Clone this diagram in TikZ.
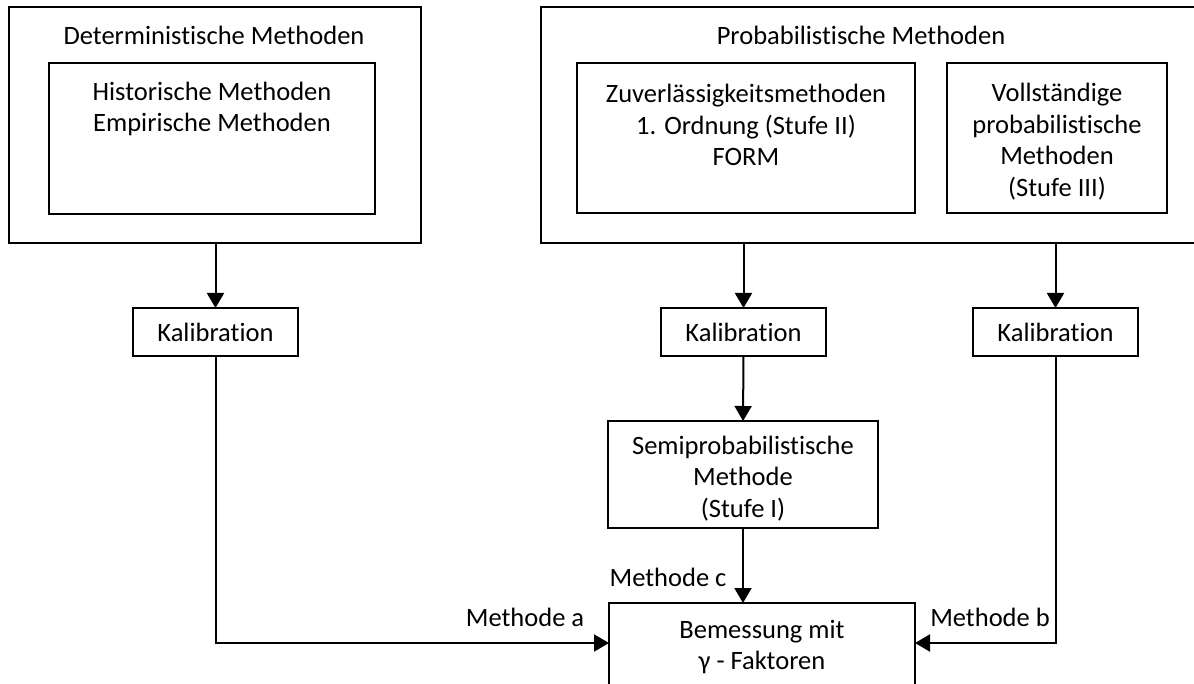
\documentclass[tikz,border=0pt]{standalone}
\usepackage{fontspec}
\setmainfont{Carlito}[Ligatures={NoCommon,NoRequired,NoContextual}]
\usetikzlibrary{arrows.meta}
\begin{document}
\begin{tikzpicture}[x=1pt,y=-1pt,
  box/.style={draw=black,line width=2pt,fill=none,inner sep=0pt,outer sep=0pt},
  txt/.style={inner sep=0pt,align=center,font=\fontsize{26.5}{31.5}\selectfont},
  lbl/.style={inner sep=0pt,font=\fontsize{26.5}{31.5}\selectfont},
  conn/.style={line width=2pt,-{Triangle[length=15pt,width=17pt]}},
  line/.style={line width=2pt}]
\useasboundingbox (0,0) rectangle (1194,684);
\begin{scope}
\clip (0,0) rectangle (1194,684);
% boxes
\node[box,minimum width=412,minimum height=236] (detO) at (215,125) {};
\node[box,minimum width=326,minimum height=151] (detI) at (212,138.5) {};
\node[box,minimum width=670,minimum height=236] (probO) at (876,125) {};
\node[box,minimum width=338,minimum height=150] (zuv) at (746,138) {};
\node[box,minimum width=220,minimum height=150] (voll) at (1057,138) {};
\node[box,minimum width=165,minimum height=48] (kalA) at (215.5,332) {};
\node[box,minimum width=165,minimum height=48] (kalC) at (743.5,332) {};
\node[box,minimum width=165,minimum height=48] (kalB) at (1055.5,332) {};
\node[box,minimum width=270,minimum height=107] (semi) at (743,474.5) {};
\node[box,minimum width=306,minimum height=118] (bem) at (762,662) {};
% texts
\node[txt] (tdet) at (214,35) {Deterministische Methoden};
\node[txt] (tprob) at (861,35) {Probabilistische Methoden};
\node[txt] (thist) at (212,109) {Historische Methoden\\Empirische Methoden};
\node[txt] (tzuv) at (746,125) {Zuverlässigkeitsmethoden\\1. Ordnung (Stufe II)\\FORM};
\node[txt] (tvoll) at (1057,141.5) {Vollständige\\probabilistische\\Methoden\\(Stufe III)};
\node[txt] (tkalA) at (kalA.center) {Kalibration};
\node[txt] (tkalC) at (kalC.center) {Kalibration};
\node[txt] (tkalB) at (kalB.center) {Kalibration};
\node[txt] (tsemi) at (743,478.5) {Semiprobabilistische\\Methode\\(Stufe I)};
\node[txt] (tbem) at (762,647) {Bemessung mit\\γ - Faktoren};
\node[lbl] (la) at (525,617) {Methode a};
\node[lbl] (lc) at (668,577) {Methode c};
\node[lbl] (lb) at (990,617) {Methode b};
% connectors
\coordinate (yab) at (0,643);
\draw[conn] (kalA.north |- detO.south) -- (kalA.north);
\draw[conn] (kalC.north |- probO.south) -- (kalC.north);
\draw[conn] (kalB.north |- probO.south) -- (kalB.north);
\draw[conn] (kalC.south) -- (semi.north);
\draw[conn] (semi.south) -- (semi.south |- bem.north);
\draw[conn] (kalA.south) |- (bem.west |- yab);
\draw[conn] (kalB.south) |- (bem.east |- yab);
\end{scope}
\end{tikzpicture}
\end{document}
